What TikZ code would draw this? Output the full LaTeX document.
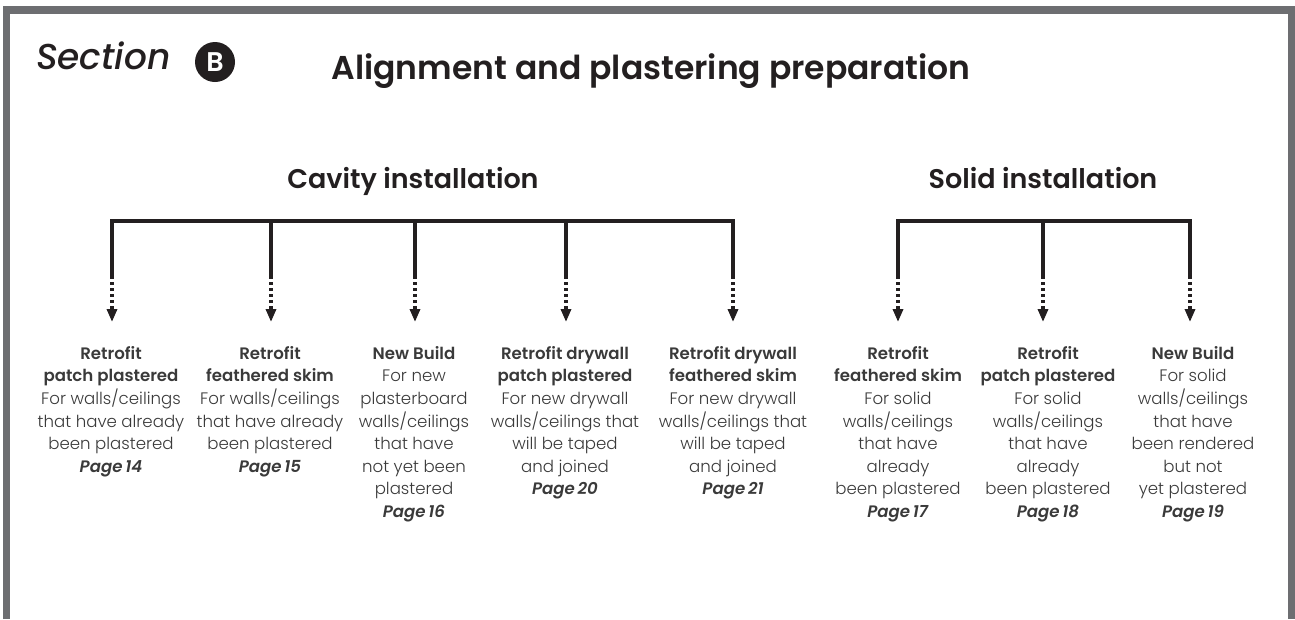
\documentclass[tikz,border=0pt]{standalone}
\usepackage{fontspec}
\setmainfont{Poppins}[UprightFont=*-Light, BoldFont=*-SemiBold, ItalicFont=*-MediumItalic, BoldItalicFont=*-SemiBoldItalic]
\usetikzlibrary{positioning,arrows.meta}
\definecolor{framegray}{HTML}{6D6E71}
\definecolor{ink}{HTML}{231F20}
\definecolor{bodygray}{HTML}{3A3A3A}
\newcommand{\pg}[1]{\textbf{\textit{Page\,#1}}}
\tikzset{
	every node/.style = {inner sep=0, text=ink},
	frame/.style = {line width=7.5pt, framegray},
	bus/.style = {line width=3.2pt, ink},
	dots/.style = {line width=3.2pt, ink, dash pattern=on 3pt off 3pt, -{Triangle[length=13pt,width=10pt]}},
	option/.style = {align=center, anchor=north, text=bodygray, font=\fontsize{16.6}{22.6}\selectfont},
	heading/.style = {font=\fontsize{27}{30}\selectfont\bfseries},
	>=latex
}
\begin{document}
\begin{tikzpicture}[x=1pt,y=-1pt]
	\useasboundingbox (0,0) rectangle (1295,619);
	\draw[frame] (6.5,619) |- (1291.5,10) -- (1291.5,619);

	% header
	\node[anchor=base west, font=\fontsize{36}{40}\selectfont\itshape] (section) at (36,69) {Section};
	\node[circle, fill=ink, minimum size=40pt, text=white, font=\fontsize{27}{28}\selectfont\bfseries] (badge) at (215,62) {B};
	\node[anchor=base, font=\fontsize{33}{36}\selectfont\bfseries] (title) at (651,79) {Alignment and plastering preparation};

	% groups
	\node[heading, anchor=base] (cavity) at (413,188) {Cavity installation};
	\node[heading, anchor=base] (solid) at (1043,188) {Solid installation};

	% bus points and arrow ends
	\coordinate (cb1) at (112,221); \coordinate (cm1) at (112,276); \coordinate (ct1) at (112,322);
	\coordinate (cb2) at (271,221); \coordinate (cm2) at (271,276); \coordinate (ct2) at (271,322);
	\coordinate (cb3) at (415,221); \coordinate (cm3) at (415,276); \coordinate (ct3) at (415,322);
	\coordinate (cb4) at (566,221); \coordinate (cm4) at (566,276); \coordinate (ct4) at (566,322);
	\coordinate (cb5) at (733,221); \coordinate (cm5) at (733,276); \coordinate (ct5) at (733,322);
	\coordinate (sb1) at (898,221); \coordinate (sm1) at (898,276); \coordinate (st1) at (898,322);
	\coordinate (sb2) at (1043,221); \coordinate (sm2) at (1043,276); \coordinate (st2) at (1043,322);
	\coordinate (sb3) at (1190,221); \coordinate (sm3) at (1190,276); \coordinate (st3) at (1190,322);

	\draw[bus] (cm1) -- (cb1) -- (cb5) -- (cm5);
	\draw[bus] (cb2) -- (cm2);
	\draw[bus] (cb3) -- (cm3);
	\draw[bus] (cb4) -- (cm4);
	\draw[bus] (sm1) -- (sb1) -- (sb3) -- (sm3);
	\draw[bus] (sb2) -- (sm2);

	\draw[dots] (cm1) -- (ct1);
	\draw[dots] (cm2) -- (ct2);
	\draw[dots] (cm3) -- (ct3);
	\draw[dots] (cm4) -- (ct4);
	\draw[dots] (cm5) -- (ct5);
	\draw[dots] (sm1) -- (st1);
	\draw[dots] (sm2) -- (st2);
	\draw[dots] (sm3) -- (st3);

	% options
	\node[option] (c1) at (111,346) {\textbf{Retrofit}\\\textbf{patch plastered}\\For walls/ceilings\\that have already\\been plastered\\\pg{14}};
	\node[option] (c2) at (270,346) {\textbf{Retrofit}\\\textbf{feathered skim}\\For walls/ceilings\\that have already\\been plastered\\\pg{15}};
	\node[option] (c3) at (414,346) {\textbf{New Build}\\For new\\plasterboard\\walls/ceilings\\that have\\not yet been\\plastered\\\pg{16}};
	\node[option] (c4) at (565,346) {\textbf{Retrofit drywall}\\\textbf{patch plastered}\\For new drywall\\walls/ceilings that\\will be taped\\and joined\\\pg{20}};
	\node[option] (c5) at (733,346) {\textbf{Retrofit drywall}\\\textbf{feathered skim}\\For new drywall\\walls/ceilings that\\will be taped\\and joined\\\pg{21}};
	\node[option] (s1) at (898,346) {\textbf{Retrofit}\\\textbf{feathered skim}\\For solid\\walls/ceilings\\that have\\already\\been plastered\\\pg{17}};
	\node[option] (s2) at (1048,346) {\textbf{Retrofit}\\\textbf{patch plastered}\\For solid\\walls/ceilings\\that have\\already\\been plastered\\\pg{18}};
	\node[option] (s3) at (1193,346) {\textbf{New Build}\\For solid\\walls/ceilings\\that have\\been rendered\\but not\\yet plastered\\\pg{19}};
\end{tikzpicture}
\end{document}
